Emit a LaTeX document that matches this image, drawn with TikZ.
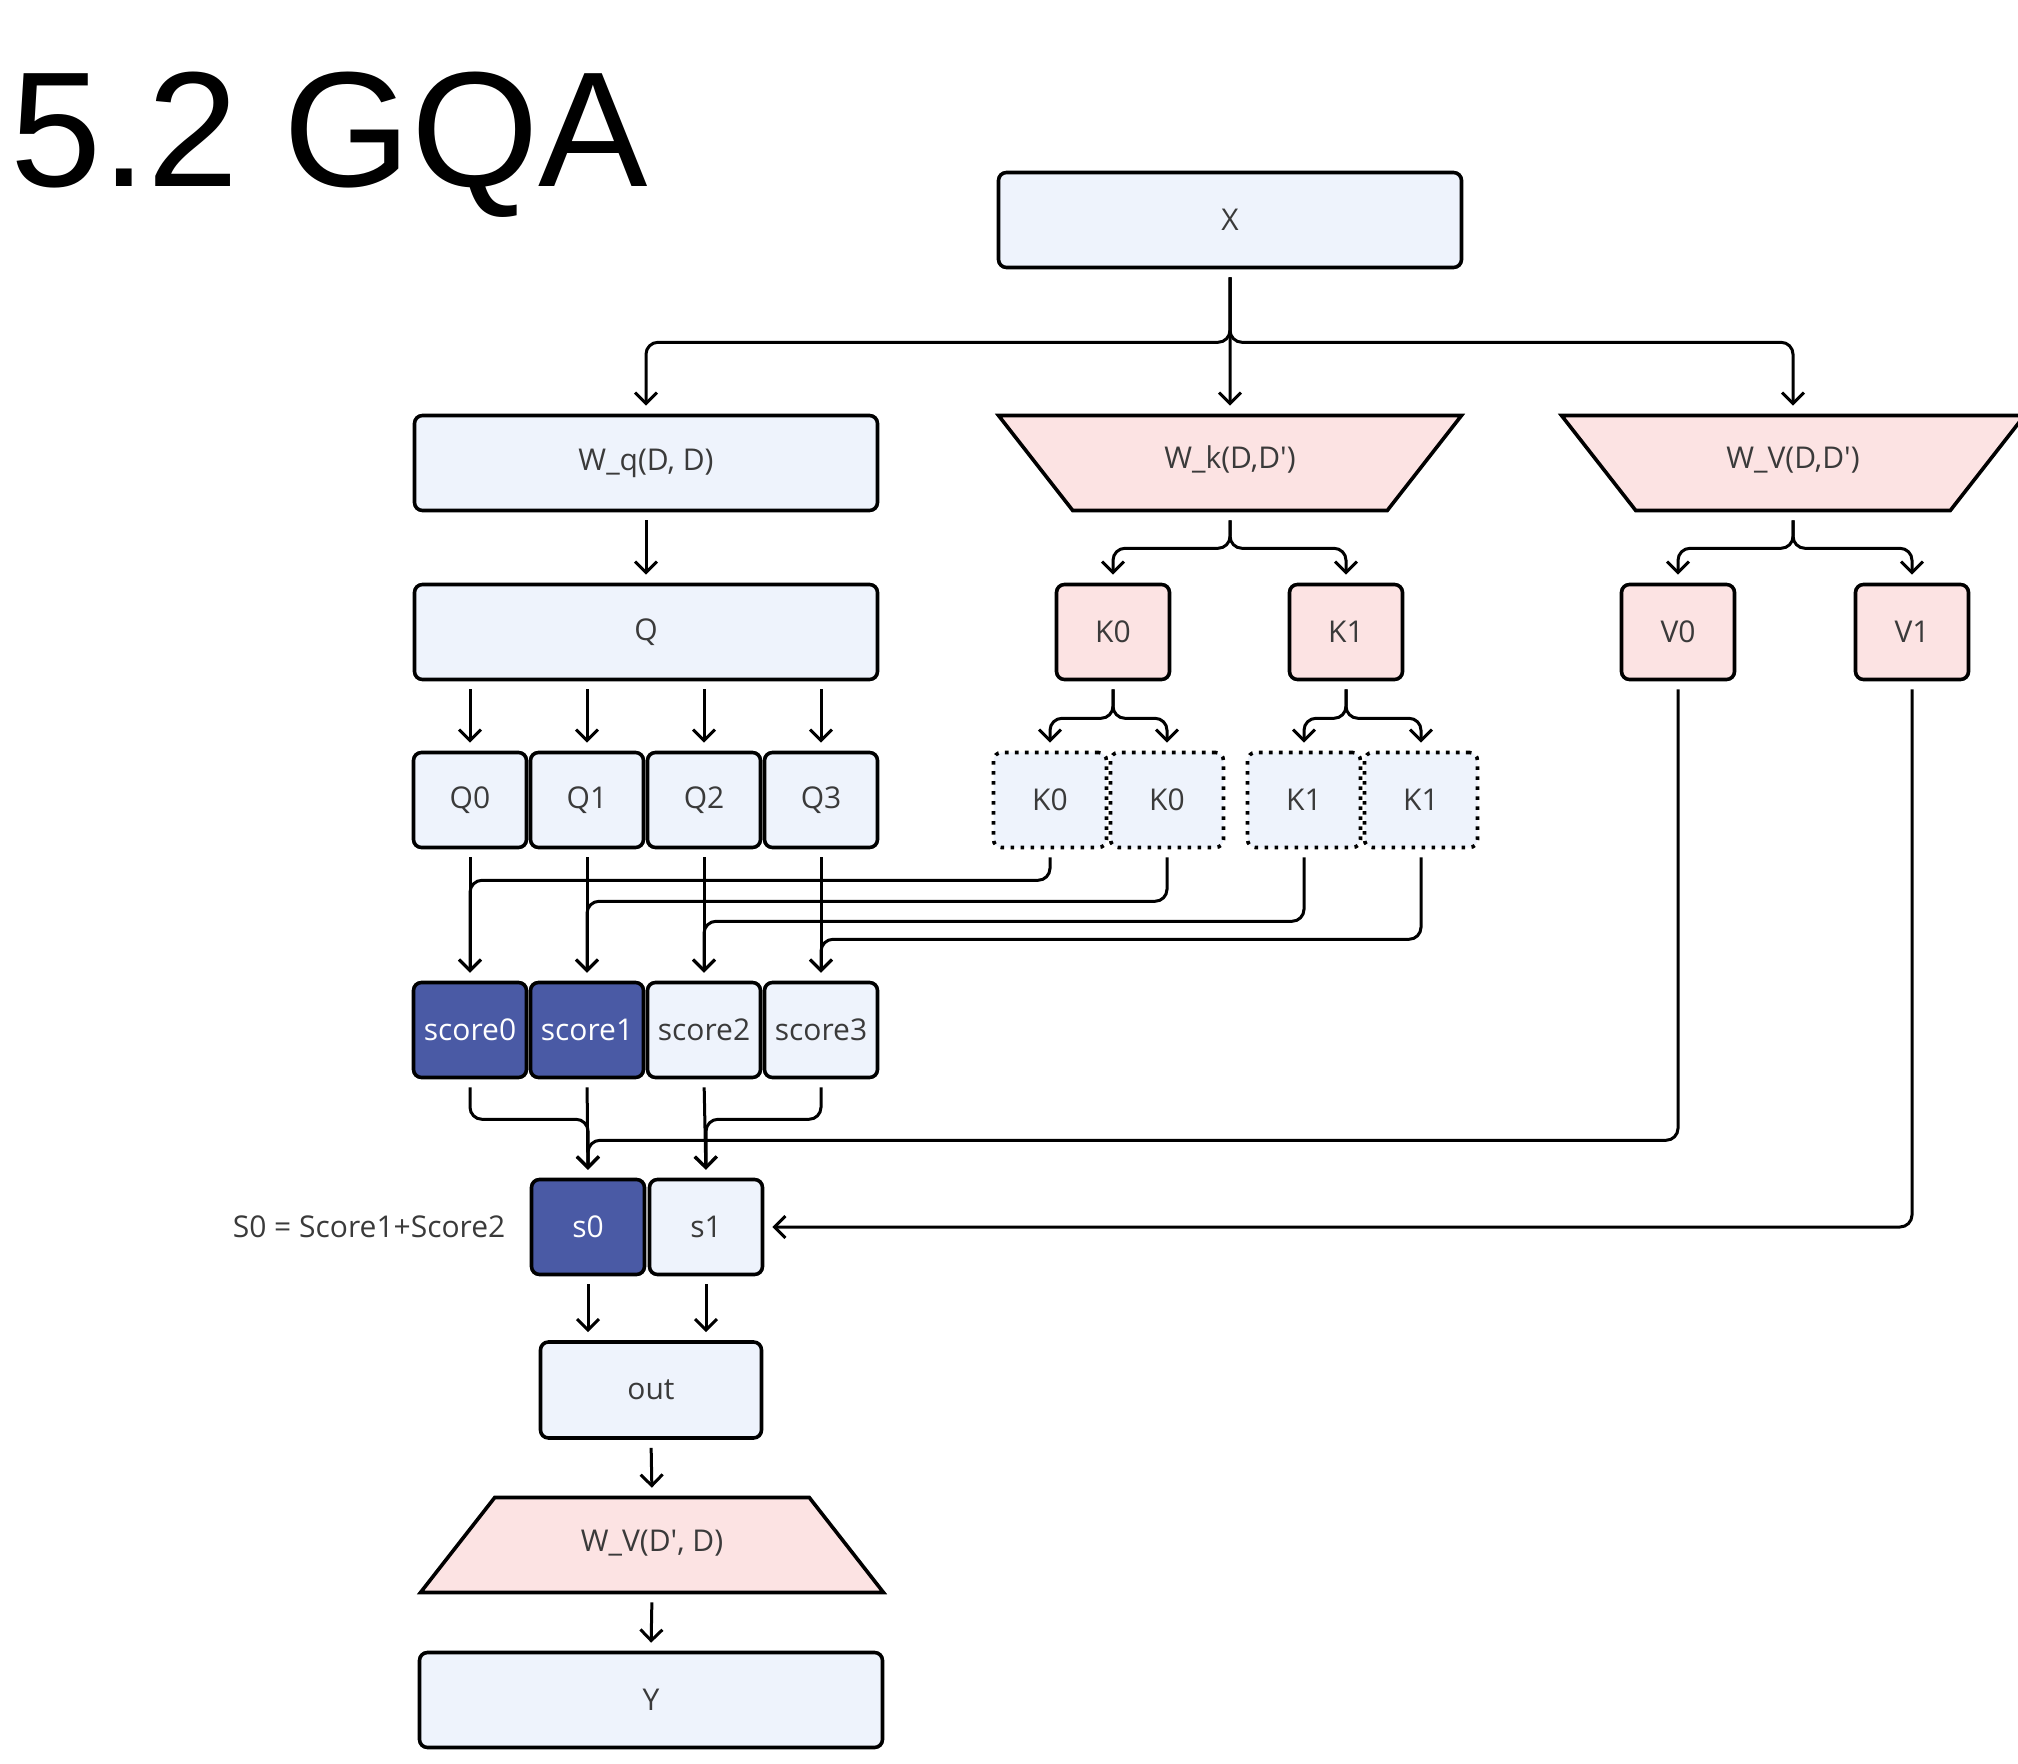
\documentclass[tikz,border=0pt]{standalone}
\usepackage{fontspec}
\setmainfont{Open Sans}
\newfontfamily\titlefont{Liberation Sans}
\usetikzlibrary{shapes, positioning, arrows.meta, calc}
\definecolor{lblue}{HTML}{EEF3FC}
\definecolor{lpink}{HTML}{FCE3E3}
\definecolor{dblue}{HTML}{4A5AA5}
\definecolor{txt}{HTML}{3A3A3A}
\tikzstyle{blk}=[rectangle, rounded corners=4pt, draw=black, line width=1.8pt, fill=lblue, text=txt, font=\fontsize{15}{17}\selectfont, inner sep=0pt]
\tikzstyle{wide}=[blk, minimum width=231.5pt, minimum height=47.5pt]
\tikzstyle{cell}=[blk, minimum width=56.5pt, minimum height=47.5pt]
\tikzstyle{pinkcell}=[cell, fill=lpink]
\tikzstyle{darkcell}=[cell, fill=dblue, text=white]
\tikzstyle{dotcell}=[cell, dash pattern=on 1.8pt off 3.2pt]
\tikzstyle{trap}=[trapezium, draw=black, line width=1.8pt, fill=lpink, text=txt, font=\fontsize{15}{17}\selectfont, trapezium left angle=52, trapezium right angle=52, trapezium stretches body, minimum width=231.5pt, text height=10pt, text depth=4pt, inner xsep=0pt, inner ysep=16.75pt]
\tikzstyle{arr}=[-{Straight Barb[length=5.5pt,width=11pt]}, line width=1.5pt, rounded corners=6pt, shorten <=4pt, shorten >=4pt]

\begin{document}
\begin{tikzpicture}[x=0.5pt, y=-0.5pt]
\useasboundingbox (0,0) rectangle (2018,1764);
\node[anchor=base west, inner sep=0pt, font=\titlefont\fontsize{82}{82}\selectfont] (title) at (10,187) {5.2 GQA};
\node[wide] (X) at (1230,220) {X};
\node[wide] (Wq) at (646,463) {W\_q(D, D)};
\node[trap, shape border rotate=180] (Wk) at (1230,463) {W\_k(D,D\textquotesingle)};
\node[trap, shape border rotate=180] (Wv) at (1793,463) {W\_V(D,D\textquotesingle)};
\node[wide] (Q) at (646,632) {Q};
\node[pinkcell] (K0) at (1113,632) {K0};
\node[pinkcell] (K1) at (1346,632) {K1};
\node[pinkcell] (V0) at (1678,632) {V0};
\node[pinkcell] (V1) at (1912,632) {V1};
\foreach \i/\x in {0/470,1/587,2/704,3/821}{
	\node[cell] (Q\i) at (\x,800) {Q\i};
}
\node[dotcell] (kc0) at (1050,800) {K0};\node[dotcell] (kc1) at (1167,800) {K0};
\node[dotcell] (kc2) at (1304,800) {K1};\node[dotcell] (kc3) at (1421,800) {K1};
\node[darkcell] (sc0) at (470,1030) {score0};
\node[darkcell] (sc1) at (587,1030) {score1};
\node[cell] (sc2) at (704,1030) {score2};
\node[cell] (sc3) at (821,1030) {score3};
\node[darkcell] (s0) at (588,1227) {s0};
\node[cell] (s1) at (706,1227) {s1};
\node[left=12pt of s0, inner sep=0pt, text=txt, font=\fontsize{15}{17}\selectfont] (sumlbl) {S0 = Score1+Score2};
\node[blk, minimum width=110.5pt, minimum height=48pt] (out) at (651,1390) {out};
\node[trap] (Wo) at (652,1545) {W\_V(D\textquotesingle, D)};
\node[wide] (Y) at (651,1700) {Y};
%split of X
\draw[arr] (X.south) -- ++(0,73) -| (Wq.north);
\draw[arr] (X.south) -- ++(0,73) -| (Wv.north);
\draw[arr] (X.south) -- (Wk.north);
\draw[arr] (Wq.south) -- (Q.north);
\draw[arr] (Wk.south) -- ++(0,36) -| (K0.north);
\draw[arr] (Wk.south) -- ++(0,36) -| (K1.north);
\draw[arr] (Wv.south) -- ++(0,36) -| (V0.north);
\draw[arr] (Wv.south) -- ++(0,36) -| (V1.north);
\foreach \i in {0,...,3}{
	\draw[arr] (Q.south -| Q\i.north) -- (Q\i.north);
	\draw[arr] (Q\i.south) -- (sc\i.north);
}
%repeated keys
\draw[arr] (K0.south) -- ++(0,37) -| (kc0.north);
\draw[arr] (K0.south) -- ++(0,37) -| (kc1.north);
\draw[arr] (K1.south) -- ++(0,37) -| (kc2.north);
\draw[arr] (K1.south) -- ++(0,37) -| (kc3.north);
\foreach \i/\d in {0/31,1/52,2/72,3/90}{
	\draw[arr] (kc\i.south) -- ++(0,\d) -| (sc\i.north);
}
%scores to s0, s1
\draw[arr] (sc0.south) -- ++(0,40) -| (s0.north);
\draw[arr] (sc1.south) -- (s0.north);
\draw[arr] (sc2.south) -- (s1.north);
\draw[arr] (sc3.south) -- ++(0,40) -| (s1.north);
\draw[arr] (V0.south) -- ++(0,459) -| (s0.north);
\draw[arr] (V1.south) |- (s1.east);
\draw[arr] (s0.south) -- (s0.south |- out.north);
\draw[arr] (s1.south) -- (s1.south |- out.north);
\draw[arr] (out.south) -- (Wo.north);
\draw[arr] (Wo.south) -- (Y.north);
\end{tikzpicture}
\end{document}
